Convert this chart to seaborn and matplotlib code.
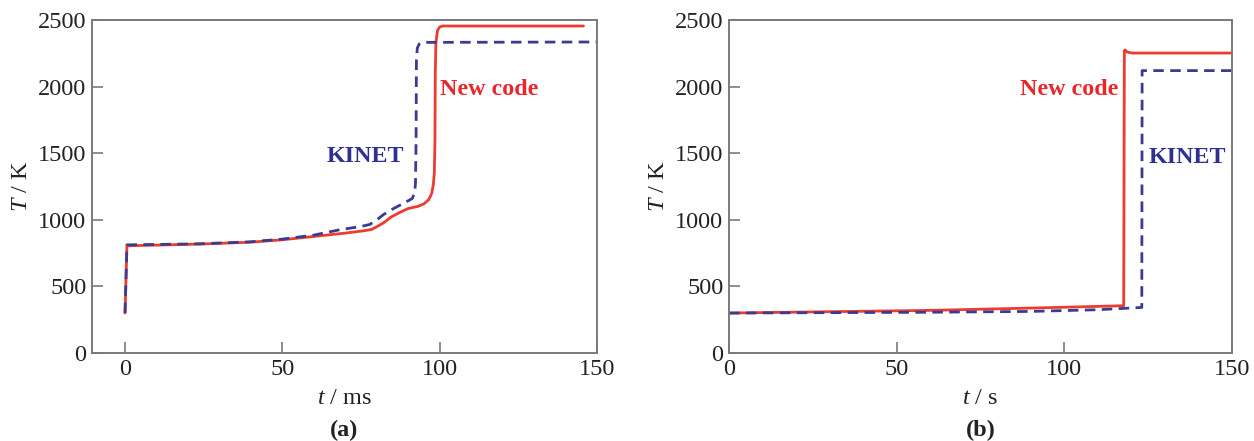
import matplotlib
matplotlib.use("Agg")
import matplotlib.pyplot as plt
import seaborn as sns
import pandas as pd

# ---- data ----
# Panel (a): t in ms
a_new_t = [0, 0.6, 10, 24, 40, 50, 62, 70, 76, 78.4, 80, 82.2, 84.5, 87.3, 90, 93, 95, 96.5, 97.5,
           98.0, 98.3, 98.5, 98.6, 98.8, 99.3, 100.0, 101.0, 145.7]
a_new_T = [300, 805, 810, 818, 832, 850, 880, 900, 918, 928, 948, 978, 1020, 1055, 1085, 1100, 1120,
           1150, 1200, 1270, 1350, 1600, 2100, 2330, 2420, 2448, 2455, 2455]
a_kin_t = [0, 0.6, 10, 24, 40, 50, 60, 68.2, 75, 77.8, 80, 82.2, 85, 89, 91.3, 92.0, 92.3, 92.5,
           92.6, 92.9, 93.5, 94.5, 150]
a_kin_T = [300, 812, 815, 820, 835, 855, 885, 925, 950, 965, 1000, 1040, 1080, 1130, 1160, 1200,
           1270, 1600, 2200, 2290, 2320, 2332, 2335]
# Panel (b): t in s
b_new_t = [0, 30, 60, 89.7, 110, 117.7, 117.9, 118.2, 118.6, 120.2, 150]
b_new_T = [300, 310, 320, 337, 350, 355, 2270, 2275, 2260, 2252, 2252]
b_kin_t = [0, 30, 60, 89.7, 110, 123.1, 123.2, 150]
b_kin_T = [300, 303, 306, 312, 325, 342, 2120, 2120]

x_ticks = [0, 50, 100, 150]
y_ticks = [0, 500, 1000, 1500, 2000, 2500]

RED = "#EE3B2F"
BLUE = "#3A3B92"
SPINE = "#7a7a7a"

sns.set_style("ticks")
plt.rcParams["font.family"] = ["Liberation Serif", "DejaVu Serif"]
plt.rcParams["mathtext.fontset"] = "custom"
plt.rcParams["mathtext.rm"] = "Liberation Serif"
plt.rcParams["mathtext.it"] = "Liberation Serif:italic"
plt.rcParams["mathtext.bf"] = "Liberation Serif:bold"

fig = plt.figure(figsize=(12.54, 4.41), dpi=100)
ax_a = fig.add_axes([92 / 1254, 1 - 353 / 441, (597 - 92) / 1254, (353 - 20) / 441])
ax_b = fig.add_axes([729 / 1254, 1 - 353 / 441, (1232 - 729) / 1254, (353 - 20) / 441])

def draw(ax, nt, nT, kt, kT):
    sns.lineplot(data=pd.DataFrame({"t": nt, "T": nT}), x="t", y="T", ax=ax,
                 color=RED, linewidth=2.0, estimator=None, sort=False)
    sns.lineplot(data=pd.DataFrame({"t": kt, "T": kT}), x="t", y="T", ax=ax,
                 color=BLUE, linewidth=2.0, estimator=None, sort=False,
                 dashes=False, linestyle=(0, (3.8, 2.3)))

draw(ax_a, a_new_t, a_new_T, a_kin_t, a_kin_T)
draw(ax_b, b_new_t, b_new_T, b_kin_t, b_kin_T)

ax_a.set_xlim(-10.5, 150)
ax_b.set_xlim(0, 150)
for ax, xl, tag in [(ax_a, "$t$ / ms", "(a)"), (ax_b, "$t$ / s", "(b)")]:
    ax.set_ylim(0, 2500)
    ax.set_xticks(x_ticks)
    ax.set_yticks(y_ticks)
    ax.set_xticklabels([str(v) for v in x_ticks])
    ax.set_yticklabels([str(v) for v in y_ticks])
    ax.tick_params(direction="in", length=8, width=1.2, color=SPINE,
                   labelsize=17.5, labelcolor="#222222", pad=4)
    for s in ax.spines.values():
        s.set_color(SPINE)
        s.set_linewidth(1.4)
    ax.set_xlabel(xl, fontsize=17.5, color="#222222", labelpad=6)
    ax.set_ylabel("$T$ / K", fontsize=17.5, color="#222222", labelpad=4)
    ax.text(0.5, -0.232, tag, transform=ax.transAxes, ha="center", va="center",
            fontsize=17.5, fontweight="bold", color="#222222")

ax_a.text(100, 1975, "New code", color="#E8262B", fontsize=17.3, fontweight="bold",
          ha="left", va="center")
ax_a.text(64, 1475, "KINET", color="#2E3192", fontsize=17.3, fontweight="bold",
          ha="left", va="center")
ax_b.text(86.8, 1975, "New code", color="#E8262B", fontsize=17.3, fontweight="bold",
          ha="left", va="center")
ax_b.text(125, 1465, "KINET", color="#2E3192", fontsize=17.3, fontweight="bold",
          ha="left", va="center")

fig.savefig("out.png", dpi=100)
